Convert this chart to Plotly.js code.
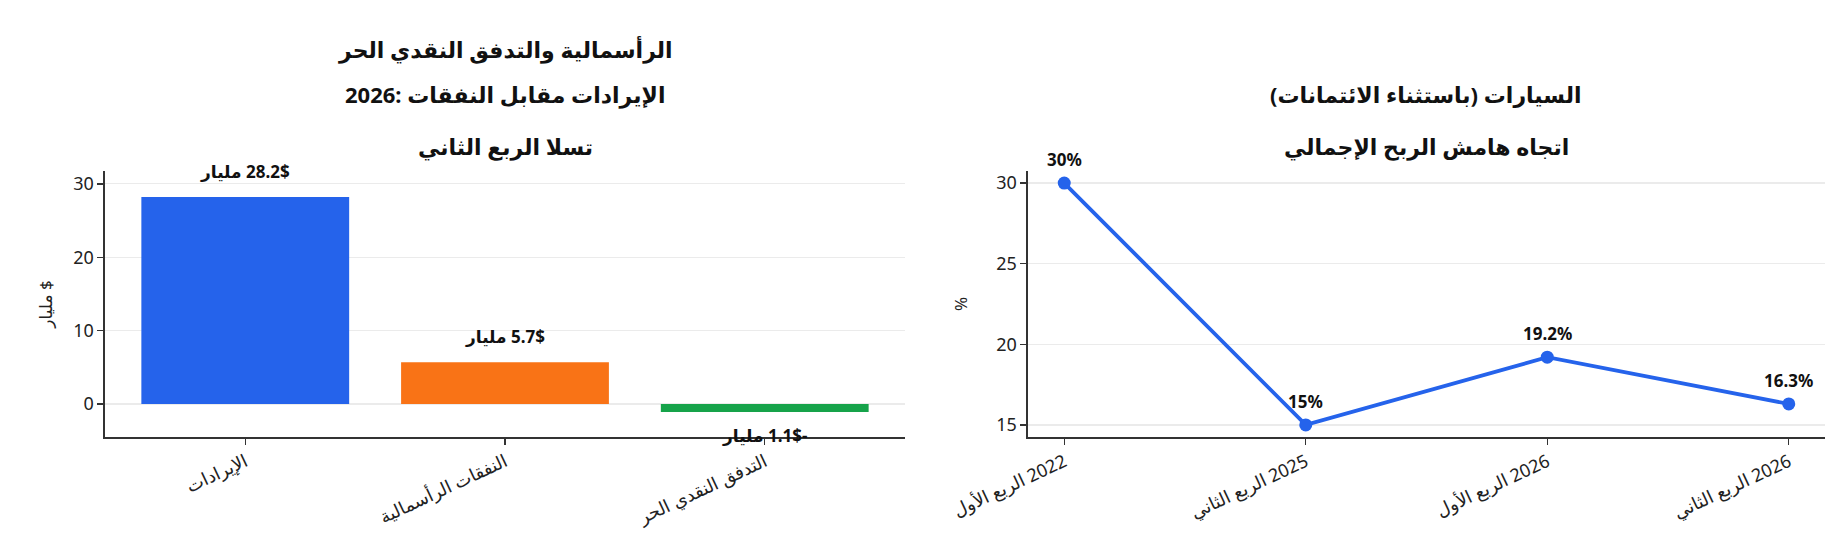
<!DOCTYPE html>
<html><head><meta charset="utf-8">
<script src="https://cdn.plot.ly/plotly-3.0.1.min.js"></script>
<style>html,body{margin:0;padding:0;background:#fff}#chart{width:1848px;height:560px}</style>
</head><body><div id="chart"></div>
<script>
// ---- data ----
const barCategories = ['الإيرادات', 'النفقات الرأسمالية', 'التدفق النقدي الحر'];
const barValues = [28.2, 5.7, -1.1];
const barColors = ['#2563eb', '#f97316', '#16a34a'];
const barUnit = 'مليار';
const currency = '$';
const marginQuarters = ['الربع الأول 2022', 'الربع الثاني 2025', 'الربع الأول 2026', 'الربع الثاني 2026'];
const marginValues = [30, 15, 19.2, 16.3];
const leftTitleLines = ['الرأسمالية والتدفق النقدي الحر', '2026: الإيرادات مقابل النفقات', 'تسلا الربع الثاني'];
const rightTitleLines = ['السيارات (باستثناء الائتمانات)', 'اتجاه هامش الربح الإجمالي'];
const leftYTitle = 'مليار $';
const rightYTitle = '%';
const leftYTicks = [0, 10, 20, 30];
const rightYTicks = [15, 20, 25, 30];

// ---- layout helpers ----
const W = 1848, H = 560;
const px = v => v / W, py = v => 1 - v / H;
const LRM = '\u200E', RLM = '\u200F';
const FONT = 'Noto Sans, DejaVu Sans, sans-serif';
const axisCommon = {
  showline: true, linecolor: '#333', linewidth: 1.6, mirror: false,
  ticks: 'outside', ticklen: 6, tickwidth: 1.4, tickcolor: '#333',
  tickfont: {family: FONT, size: 18, color: '#222'}, automargin: false, fixedrange: true
};
// keep trailing years on the right end of the tick labels, as in the reference
const ltrLine = s => LRM + s.replace(/ (\d{4})$/, LRM + ' $1');

const traces = [
  {type: 'bar', x: barCategories, y: barValues, width: 0.8,
   marker: {color: barColors, line: {width: 0}}, xaxis: 'x', yaxis: 'y', hoverinfo: 'skip'},
  {type: 'scatter', mode: 'lines+markers', x: marginQuarters, y: marginValues,
   line: {color: '#2563eb', width: 3.8}, marker: {color: '#2563eb', size: 13},
   xaxis: 'x2', yaxis: 'y2', hoverinfo: 'skip'}
];

const annotations = [];
barValues.forEach((v, i) => {
  annotations.push({
    xref: 'x', yref: 'y', x: barCategories[i], y: v,
    text: RLM + v + currency + ' ' + barUnit, showarrow: false,
    yanchor: v >= 0 ? 'bottom' : 'top', yshift: v >= 0 ? 12 : -10,
    font: {family: FONT, size: 17, color: '#111', weight: 'bold'}
  });
});
marginValues.forEach((v, i) => {
  annotations.push({
    xref: 'x2', yref: 'y2', x: marginQuarters[i], y: v,
    text: v + '%', showarrow: false, yanchor: 'bottom', yshift: 10,
    font: {family: FONT, size: 17, color: '#111', weight: 'bold'}
  });
});
const leftTitleY = [49, 94, 146];
leftTitleLines.forEach((t, i) => annotations.push({
  xref: 'paper', yref: 'paper', x: px(505), y: py(leftTitleY[i]), xanchor: 'center', yanchor: 'middle',
  text: '<b>' + t + '</b>', showarrow: false,
  font: {family: FONT, size: 22, color: '#111'}
}));
const rightTitleY = [94, 146];
rightTitleLines.forEach((t, i) => annotations.push({
  xref: 'paper', yref: 'paper', x: px(1426), y: py(rightTitleY[i]), xanchor: 'center', yanchor: 'middle',
  text: '<b>' + t + '</b>', showarrow: false, font: {family: FONT, size: 22, color: '#111'}
}));

const layout = {
  width: W, height: H, margin: {l: 0, r: 0, t: 0, b: 0},
  paper_bgcolor: '#fff', plot_bgcolor: '#fff', showlegend: false,
  font: {family: FONT, color: '#222'},
  xaxis: Object.assign({}, axisCommon, {
    domain: [px(105), px(905)], anchor: 'y', type: 'category',
    range: [-0.54, 2.54], tickangle: -25, showgrid: false, zeroline: false
  }),
  yaxis: Object.assign({}, axisCommon, {
    domain: [py(437), py(171)], anchor: 'x', range: [-4.5, 31.75],
    tickvals: leftYTicks, showgrid: true, gridcolor: '#ebebeb', gridwidth: 1.2, zeroline: false,
    title: {text: leftYTitle, standoff: 16, font: {family: FONT, size: 17, color: '#222'}}
  }),
  xaxis2: Object.assign({}, axisCommon, {
    domain: [px(1028), px(1825)], anchor: 'y2', type: 'category',
    range: [-0.15, 3.15], tickangle: -25, showgrid: false, zeroline: false,
    tickmode: 'array', tickvals: marginQuarters, ticktext: marginQuarters.map(ltrLine)
  }),
  yaxis2: Object.assign({}, axisCommon, {
    domain: [py(437), py(171)], anchor: 'x2', range: [14.25, 30.75],
    tickvals: rightYTicks, showgrid: true, gridcolor: '#ebebeb', gridwidth: 1.2, zeroline: false,
    title: {text: rightYTitle, standoff: 24, font: {family: FONT, size: 17, color: '#222'}}
  }),
  annotations: annotations
};

Plotly.newPlot('chart', traces, layout, {displayModeBar: false, staticPlot: true});
</script>
</body></html>
